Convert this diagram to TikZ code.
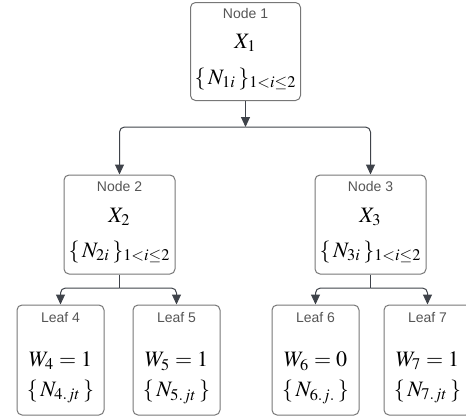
\documentclass[tikz,border=0pt]{standalone}
\usepackage{amsmath}
\usepackage{amssymb}
\usepackage{mathptmx}
\usepackage{fontspec}
\setsansfont{Liberation Sans}
\usepackage{tikz}
\usepackage{xcolor}
\usetikzlibrary{arrows.meta, positioning, calc}

\definecolor{boxgray}{HTML}{777777}
\definecolor{headgray}{HTML}{555555}
\definecolor{linkgray}{HTML}{3f434a}

\tikzset{
  box/.style={draw=boxgray, line width=0.5pt, rounded corners=2.5pt, minimum width=55pt, minimum height=49pt, inner sep=0pt},
  leafbox/.style={box, minimum width=43.5pt, minimum height=55pt},
  head/.style={font=\sffamily\fontsize{7}{8}\selectfont, text=headgray, anchor=base, inner sep=0pt},
  mth/.style={font=\fontsize{11}{13}\selectfont, anchor=base, inner sep=0pt},
  link/.style={draw=linkgray, line width=0.5pt, -{Triangle[length=5pt,width=4.5pt]}},
  plain/.style={draw=linkgray, line width=0.5pt}
}

\begin{document}
\begin{tikzpicture}[x=0.5pt, y=-0.5pt]
\useasboundingbox (0,0) rectangle (466,418);

% root
\node[box] (n1) at (245.5,51.5) {};
\node[head] (n1h) at ([yshift=-8pt]n1.north) {Node 1};
\node[mth] (n1x) at ([yshift=-23pt]n1.north) {$X_1$};
\node[mth] (n1n) at ([yshift=-41pt]n1.north) {$\{\,N_{1i}\,\}_{1<i\le 2}$};

% inner nodes
\foreach \k/\x in {2/119.5, 3/370.5} {
  \node[box, minimum width=55.5pt, minimum height=49.5pt] (n\k) at (\x,224.5) {};
  \node[head] (n\k h) at ([yshift=-8.3pt]n\k.north) {Node \k};
  \node[mth] (n\k x) at ([yshift=-24pt]n\k.north) {$X_\k$};
  \node[mth] (n\k n) at ([yshift=-41.5pt]n\k.north) {$\{\,N_{\k i}\,\}_{1<i\le 2}$};
}

% leaves
\foreach \k/\x/\w/\s in {4/60.5/1/jt, 5/176.5/1/jt, 6/315.5/0/j., 7/427.5/1/jt} {
  \node[leafbox] (l\k) at (\x,360) {};
  \node[head] (l\k h) at ([yshift=-8.8pt]l\k.north) {Leaf \k};
  \node[mth] (l\k w) at ([yshift=-31pt]l\k.north) {$W_\k = \w$};
  \node[mth] (l\k n) at ([yshift=-46pt]l\k.north) {$\{\,N_{\k.\s}\,\}$};
}

% splits
\coordinate (s1) at (245.5,127);
\coordinate (s2) at (119.5,288);
\coordinate (s3) at (370.5,288);

\draw[link] (n1.south) -- (s1);
\draw[link, rounded corners=2.5pt] (s1) -| (n2.north);
\draw[link, rounded corners=2.5pt] (s1) -| (n3.north);

\draw[plain] (n2.south) -- (s2);
\draw[link, rounded corners=2.5pt] (s2) -| (l4.north);
\draw[link, rounded corners=2.5pt] (s2) -| (l5.north);

\draw[plain] (n3.south) -- (s3);
\draw[link, rounded corners=2.5pt] (s3) -| (l6.north);
\draw[link, rounded corners=2.5pt] (s3) -| (l7.north);
\end{tikzpicture}
\end{document}
